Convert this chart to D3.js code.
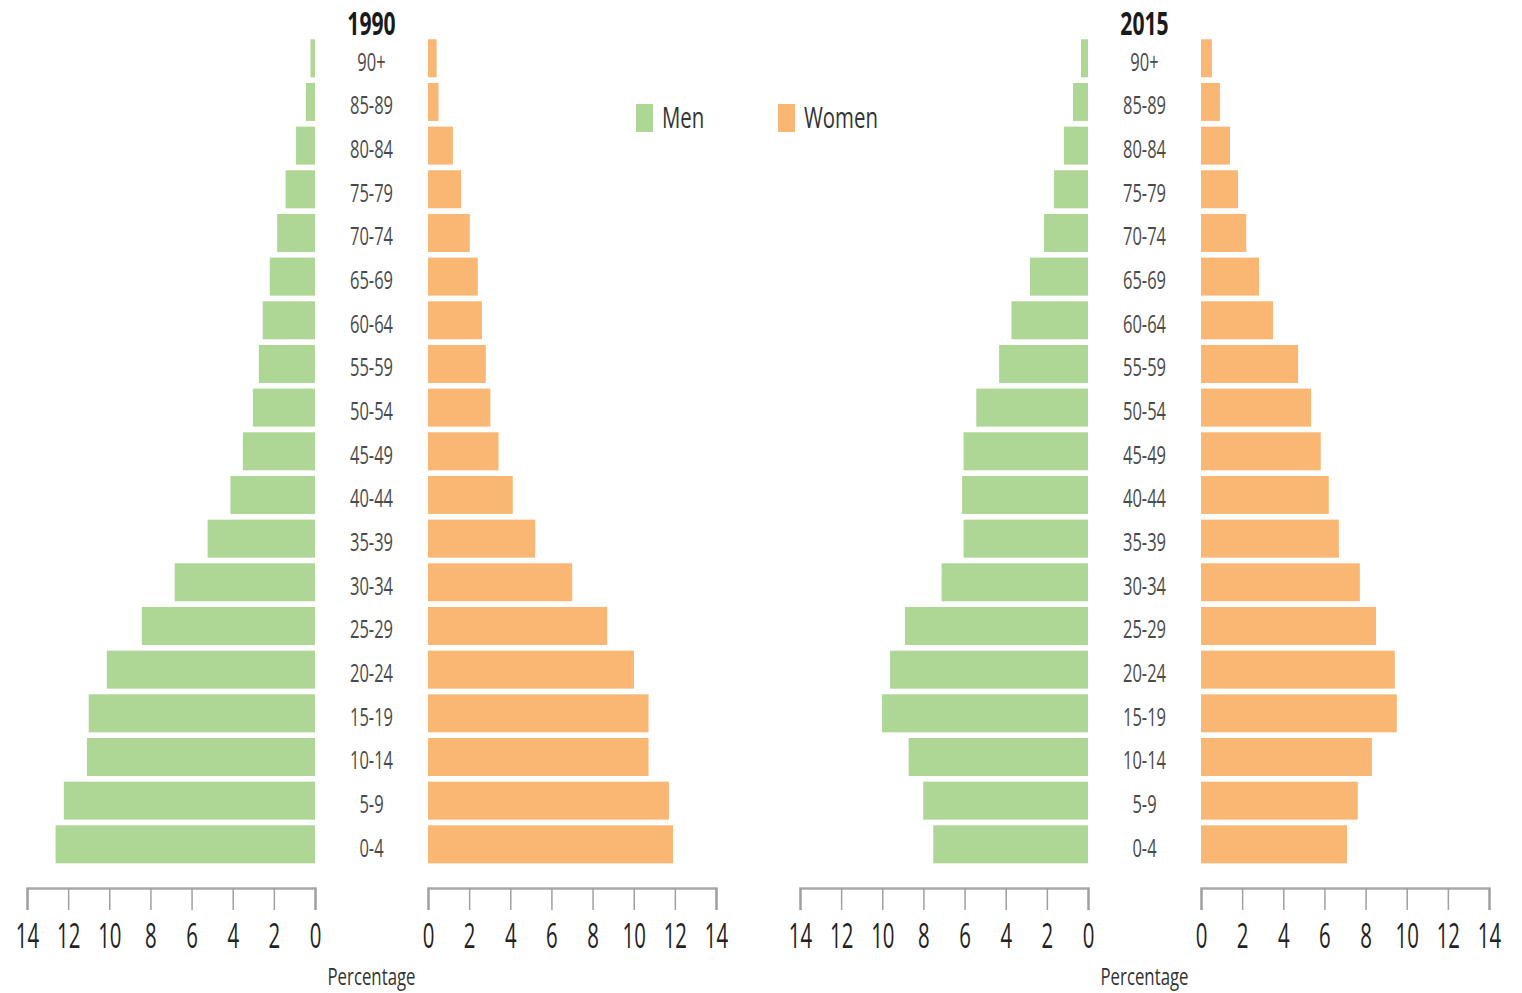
<!DOCTYPE html>
<html>
<head>
<meta charset="utf-8">
<script src="https://cdn.jsdelivr.net/npm/d3@7"></script>
<style>
  html, body { margin: 0; padding: 0; background: #fff; }
  svg { display: block; }
  text { font-family: "Open Sans", "Noto Sans", sans-serif; }
</style>
</head>
<body>
<svg id="chart" width="1522" height="993"></svg>
<script>
// ---- data (percentages) ----
const ageGroups = ["90+","85-89","80-84","75-79","70-74","65-69","60-64","55-59","50-54","45-49","40-44","35-39","30-34","25-29","20-24","15-19","10-14","5-9","0-4"];
const men1990   = [0.22,0.44,0.92,1.43,1.84,2.2,2.54,2.73,3.02,3.51,4.11,5.22,6.82,8.42,10.12,11.0,11.09,12.21,12.61];
const women1990 = [0.42,0.51,1.21,1.61,2.03,2.42,2.62,2.81,3.03,3.43,4.12,5.21,7.01,8.71,10.01,10.72,10.72,11.71,11.91];
const men2015   = [0.34,0.73,1.17,1.65,2.14,2.82,3.72,4.32,5.43,6.05,6.12,6.05,7.12,8.9,9.62,10.01,8.72,8.01,7.52];
const women2015 = [0.53,0.92,1.41,1.8,2.2,2.82,3.5,4.72,5.35,5.82,6.21,6.7,7.72,8.51,9.42,9.52,8.31,7.62,7.1];
const years = ["1990","2015"];
const tickValues = [0,2,4,6,8,10,12,14];
const legendLabels = ["Men","Women"];
const axisTitle = "Percentage";

const panels = [
  {year: years[0], men: men1990, women: women1990},
  {year: years[1], men: men2015, women: women2015}
];

const colors = {men: "#aed695", women: "#fab673"};
const SX = 0.68; // condensed text look

const svg = d3.select("#chart");

const y = d3.scaleBand().domain(ageGroups).range([33.6, 869]).paddingInner(0.13).paddingOuter(0.13);

const panelOffset = 773;
const axisY = 888;

panels.forEach((p, i) => {
  const off = i * panelOffset;
  const xM = d3.scaleLinear().domain([0, 14]).range([315 + off, 27 + off]);
  const xW = d3.scaleLinear().domain([0, 14]).range([428 + off, 716 + off]);
  const cx = (xM(0) + xW(0)) / 2;
  const g = svg.append("g");

  // bars
  g.selectAll("rect.men").data(p.men).join("rect")
    .attr("class", "men")
    .attr("x", d => xM(d))
    .attr("y", (d, k) => y(ageGroups[k]))
    .attr("width", d => xM(0) - xM(d))
    .attr("height", y.bandwidth())
    .attr("fill", colors.men);
  g.selectAll("rect.women").data(p.women).join("rect")
    .attr("class", "women")
    .attr("x", xW(0))
    .attr("y", (d, k) => y(ageGroups[k]))
    .attr("width", d => xW(d) - xW(0))
    .attr("height", y.bandwidth())
    .attr("fill", colors.women);

  // age labels
  g.selectAll("g.age").data(ageGroups).join("g")
    .attr("class", "age")
    .attr("transform", d => `translate(${cx},${y(d) + y.bandwidth() / 2 + 12.5})`)
    .append("text")
    .attr("transform", `scale(0.66,1)`)
    .attr("text-anchor", "middle")
    .attr("font-size", 25)
    .attr("fill", "#4a4a4a")
    .text(d => d);

  // title
  g.append("g").attr("transform", `translate(${cx},${35})`)
    .append("text")
    .attr("transform", `scale(0.64,1)`)
    .attr("text-anchor", "middle")
    .attr("font-size", 33)
    .attr("font-weight", "bold")
    .attr("fill", "#1a1a1a")
    .text(p.year);

  // axes
  [xM, xW].forEach(sc => {
    const ax = g.append("g")
      .attr("transform", `translate(0,${axisY})`)
      .call(d3.axisBottom(sc).tickValues(tickValues).tickSize(22).tickSizeOuter(22).tickPadding(14).tickFormat(d3.format("d")));
    ax.select(".domain").attr("stroke", "#a8a8a8").attr("stroke-width", 2.5);
    ax.selectAll(".tick line").attr("stroke", "#a0a0a0").attr("stroke-width", 1.5);
    ax.selectAll(".tick text")
      .attr("font-family", "Open Sans, sans-serif")
      .attr("font-size", 34)
      .attr("fill", "#222")
      .attr("transform", `scale(0.6,1)`);
  });

  // axis title
  g.append("g").attr("transform", `translate(${cx},${985})`)
    .append("text")
    .attr("transform", `scale(0.7,1)`)
    .attr("text-anchor", "middle")
    .attr("font-size", 24)
    .attr("fill", "#333")
    .text(axisTitle);
});

// legend
const legendX = [636, 778];
const legend = svg.append("g");
legendLabels.forEach((lab, i) => {
  legend.append("rect")
    .attr("x", legendX[i]).attr("y", 104)
    .attr("width", 17).attr("height", 28)
    .attr("fill", i === 0 ? colors.men : colors.women);
  legend.append("g").attr("transform", `translate(${legendX[i] + 26},${128})`)
    .append("text")
    .attr("transform", `scale(${SX},1)`)
    .attr("font-size", 30)
    .attr("fill", "#333")
    .text(lab);
});
</script>
</body>
</html>
